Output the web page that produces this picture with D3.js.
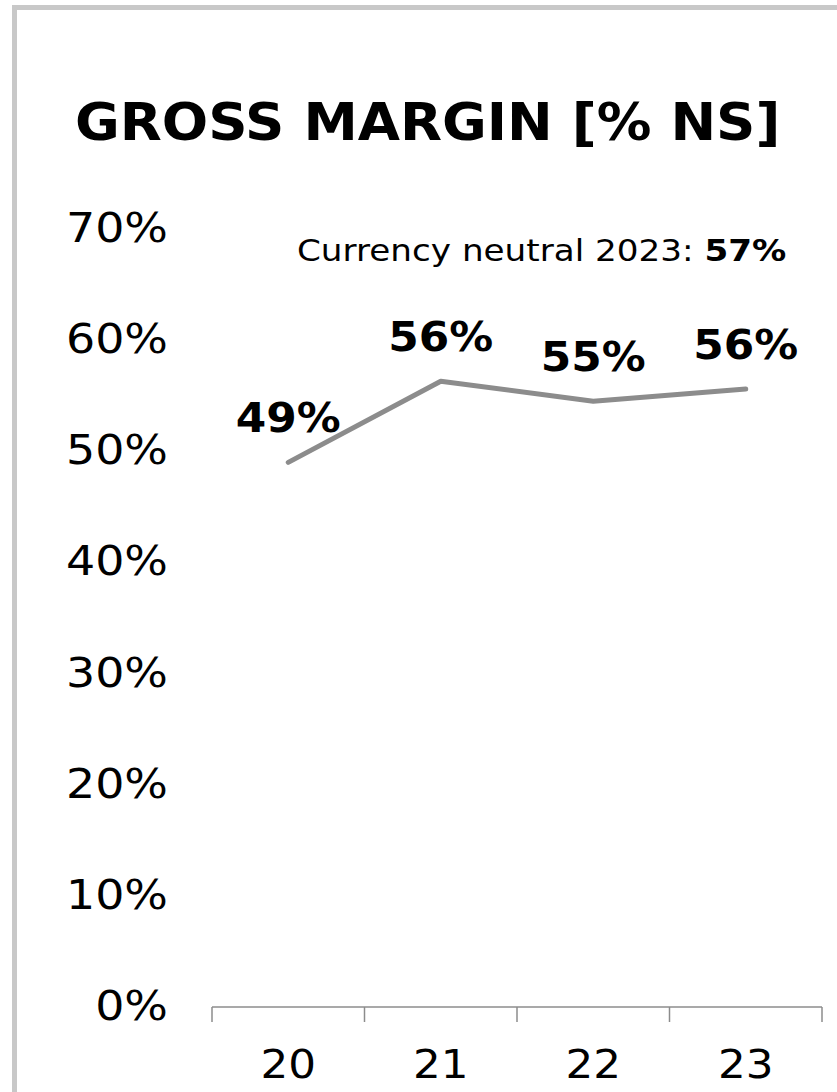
<!DOCTYPE html>
<html>
<head>
<meta charset="utf-8">
<script src="https://cdn.jsdelivr.net/npm/d3@7"></script>
<style>
  body { margin: 0; background: #fff; }
  text { font-family: "DejaVu Sans", sans-serif; fill: #000; }
</style>
</head>
<body>
<div id="chart"></div>
<script>
var width = 837,
	height = 1092;

var years = ['20', '21', '22', '23'];
var margin = [49.0, 56.3, 54.5, 55.6];
var marginLabels = ['49%', '56%', '55%', '56%'];
var yTicks = [0, 10, 20, 30, 40, 50, 60, 70];

var title = 'GROSS MARGIN [% NS]';
var noteText = 'Currency neutral 2023: ';
var noteValue = '57%';

var svg = d3.select('#chart')
	.append('svg')
	.attr('width', width)
	.attr('height', height);

// the reference font is wider than anything installed, so stretch text a bit
function stretch(sel, f) {
	sel.attr('transform', function() {
		var x = +d3.select(this).attr('x'),
			y = +d3.select(this).attr('y');
		return `translate(${x},${y}) scale(${f},1) translate(${-x},${-y})`;
	});
}

// frame
svg.append('rect')
	.attr('x', 14.5)
	.attr('y', 7.5)
	.attr('width', 900)
	.attr('height', 1200)
	.attr('fill', 'none')
	.attr('stroke', '#c8c8c8')
	.attr('stroke-width', 5);

var x = d3.scaleBand()
	.domain(years)
	.range([212, 822]);

var y = d3.scaleLinear()
	.domain([0, 70])
	.range([1007, 229]);

// title
svg.append('text')
	.attr('x', 75)
	.attr('y', 140)
	.attr('font-size', 52)
	.attr('font-weight', 'bold')
	.text(title)
	.call(stretch, 1.05);

// note
var note = svg.append('text')
	.attr('x', 297)
	.attr('y', 261)
	.attr('font-size', 30)
	.call(stretch, 1.14);
note.append('tspan').text(noteText);
note.append('tspan').attr('font-weight', 'bold').text(noteValue);

// y axis labels (no axis line)
svg.append('g')
	.selectAll('text')
	.data(yTicks)
	.join('text')
	.attr('x', 168)
	.attr('y', d => y(d) + 13)
	.attr('text-anchor', 'end')
	.attr('font-size', 41)
	.text(d => d + '%')
	.each(function() { d3.select(this).call(stretch, 1.12); });

// x axis
var xAxis = svg.append('g')
	.attr('transform', `translate(0,${y(0)})`)
	.call(d3.axisBottom(x).tickSize(0).tickFormat(''));
xAxis.select('.domain')
	.attr('d', `M${x.range()[0]},0H${x.range()[1]}`)
	.attr('stroke', '#8c8c8c')
	.attr('stroke-width', 1.5);

var xEdges = years.map(d => x(d)).concat([x.range()[1]]);
xAxis.selectAll('.edge')
	.data(xEdges)
	.join('line')
	.attr('class', 'edge')
	.attr('x1', d => d)
	.attr('x2', d => d)
	.attr('y1', 0)
	.attr('y2', 15)
	.attr('stroke', '#8c8c8c')
	.attr('stroke-width', 1.5);

svg.append('g')
	.selectAll('text')
	.data(years)
	.join('text')
	.attr('x', d => x(d) + x.bandwidth() / 2)
	.attr('y', 1078)
	.attr('text-anchor', 'middle')
	.attr('font-size', 39)
	.text(d => d)
	.each(function() { d3.select(this).call(stretch, 1.12); });

// line
var line = d3.line()
	.x((d, i) => x(years[i]) + x.bandwidth() / 2)
	.y(d => y(d));

svg.append('path')
	.datum(margin)
	.attr('d', line)
	.attr('fill', 'none')
	.attr('stroke', '#8c8c8c')
	.attr('stroke-width', 5)
	.attr('stroke-linecap', 'round')
	.attr('stroke-linejoin', 'round');

// data labels
svg.append('g')
	.selectAll('text')
	.data(margin)
	.join('text')
	.attr('x', (d, i) => x(years[i]) + x.bandwidth() / 2)
	.attr('y', d => y(d) - 30)
	.attr('text-anchor', 'middle')
	.attr('font-size', 41)
	.attr('font-weight', 'bold')
	.text((d, i) => marginLabels[i])
	.each(function() { d3.select(this).call(stretch, 1.07); });
</script>
</body>
</html>
